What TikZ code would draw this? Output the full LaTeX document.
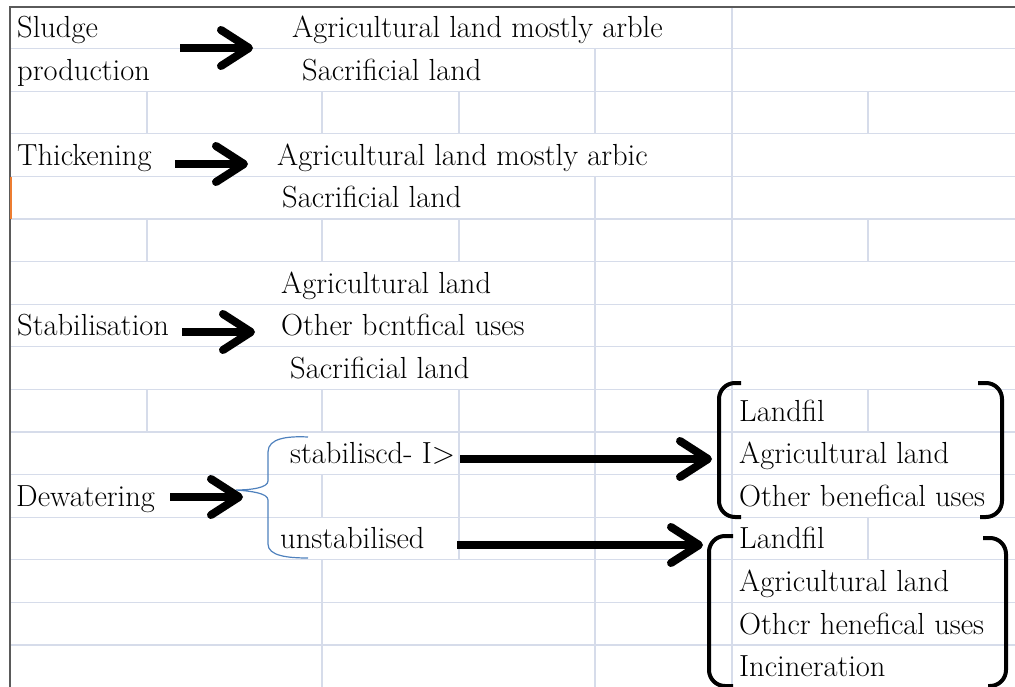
\documentclass[tikz,border=0pt]{standalone}
\usepackage{tikz}
\usetikzlibrary{arrows.meta}

\definecolor{gridline}{RGB}{214,220,234}
\definecolor{sheetedge}{RGB}{90,90,90}
\definecolor{bracecol}{RGB}{79,129,189}
\definecolor{markorange}{RGB}{237,125,49}

\begin{document}
\begin{tikzpicture}[
        x=1pt, y=-1pt,
        cell/.style={anchor=base west, inner sep=0pt, font=\fontsize{30.5}{36}\selectfont},
        gridrule/.style={draw=gridline, line width=1.3pt},
        arrow/.style={-{Straight Barb[length=28pt, width=36pt, round]}, line width=8pt},
        parbracket/.style={line width=4pt, rounded corners=16pt},
        bluebrace/.style={draw=bracecol, line width=1.2pt}
    ]
        \useasboundingbox (0,0) rectangle (1015,687);

        % Sheet grid
        \foreach \k in {1,...,15}
            \draw[gridrule] (10,{6+42.6*\k}) -- (1015,{6+42.6*\k});
        \draw[gridrule] (147,91.2) -- (147,133.8);
        \draw[gridrule] (147,219) -- (147,261.6);
        \draw[gridrule] (147,389.4) -- (147,432);
        \draw[gridrule] (322,91.2) -- (322,133.8);
        \draw[gridrule] (322,219) -- (322,261.6);
        \draw[gridrule] (322,389.4) -- (322,432);
        \draw[gridrule] (322,474.6) -- (322,517.2);
        \draw[gridrule] (322,559.8) -- (322,687);
        \draw[gridrule] (459,91.2) -- (459,133.8);
        \draw[gridrule] (459,219) -- (459,261.6);
        \draw[gridrule] (459,389.4) -- (459,559.8);
        \draw[gridrule] (595,48.6) -- (595,133.8);
        \draw[gridrule] (595,176.4) -- (595,687);
        \draw[gridrule] (732,7) -- (732,687);
        \draw[gridrule] (868,91.2) -- (868,133.8);
        \draw[gridrule] (868,219) -- (868,261.6);
        \draw[gridrule] (868,389.4) -- (868,432);
        \draw[gridrule] (868,517.2) -- (868,559.8);
        \draw[sheetedge, line width=2pt] (1015,7) -- (9.5,7) -- (9.5,687);
        \draw[markorange, line width=1.2pt] (11,177) -- (11,219);

        % Left column
        \node[cell] (sludge) at (17,37.6) {Sludge};
        \node[cell] (production) at (17,80.2) {production};
        \node[cell] (thick) at (17,165.4) {Thickening};
        \node[cell] (stab) at (17,335.8) {Stabilisation};
        \node[cell] (dewat) at (16,506.2) {Dewatering};

        % Outlets
        \node[cell] (agri1) at (292,37.6) {Agricultural land mostly arble};
        \node[cell] (sacr1) at (302,80.2) {Sacrificial land};
        \node[cell] (agri2) at (277,165.4) {Agricultural land mostly arbic};
        \node[cell] (sacr2) at (282,208) {Sacrificial land};
        \node[cell] (agri3) at (281,293.2) {Agricultural land};
        \node[cell] (other3) at (281,335.8) {Other bcntfical uses};
        \node[cell] (sacr3) at (290,378.4) {Sacrificial land};

        % Dewatering split
        \node[cell] (stabd) at (290,463.6) {stabiliscd- I>};
        \node[cell] (unstab) at (280,548.8) {unstabilised};
        \draw[bluebrace] (308,437) .. controls (288,436) and (268,438) .. (268,452)
            -- (268,481) .. controls (268,488) and (250,490) .. (236,490)
            .. controls (250,491) and (268,493) .. (268,500)
            -- (268,544) .. controls (268,556) and (288,558) .. (308,558);

        % Right lists
        \node[cell] (landfil1) at (739,421) {Landfil};
        \node[cell] (agri4) at (739,463.6) {Agricultural land};
        \node[cell] (other4) at (739,506.2) {Other benefical uses};
        \node[cell] (landfil2) at (739,548.8) {Landfil};
        \node[cell] (agri5) at (739,591.4) {Agricultural land};
        \node[cell] (other5) at (739,634) {Othcr henefical uses};
        \node[cell] (incin) at (739,676.6) {Incineration};

        \draw[parbracket] (741,383) -- (719,383) -- (719,517) -- (741,517);
        \draw[parbracket] (978,383) -- (1002,383) -- (1002,517) -- (980,517);
        \draw[parbracket] (733,536) -- (709,536) -- (709,686) -- (733,686);
        \draw[parbracket] (983,538) -- (1006,538) -- (1006,686) -- (988,686);

        % Arrows
        \coordinate (sludge_a) at (180,48);
        \coordinate (sludge_b) at (253,48);
        \coordinate (thick_a) at (175,164);
        \coordinate (thick_b) at (248,164);
        \coordinate (stab_a) at (182,332);
        \coordinate (stab_b) at (255,332);
        \coordinate (dewat_a) at (170,497);
        \coordinate (dewat_b) at (243,497);
        \coordinate (stabd_a) at (460,459);
        \coordinate (stabd_b) at (712,459);
        \coordinate (unstab_a) at (457,545);
        \coordinate (unstab_b) at (703,545);

        \draw[arrow] (sludge_a) -- (sludge_b);
        \draw[arrow] (thick_a) -- (thick_b);
        \draw[arrow] (stab_a) -- (stab_b);
        \draw[arrow] (dewat_a) -- (dewat_b);
        \draw[arrow] (stabd_a) -- (stabd_b);
        \draw[arrow] (unstab_a) -- (unstab_b);
    \end{tikzpicture}
\end{document}
